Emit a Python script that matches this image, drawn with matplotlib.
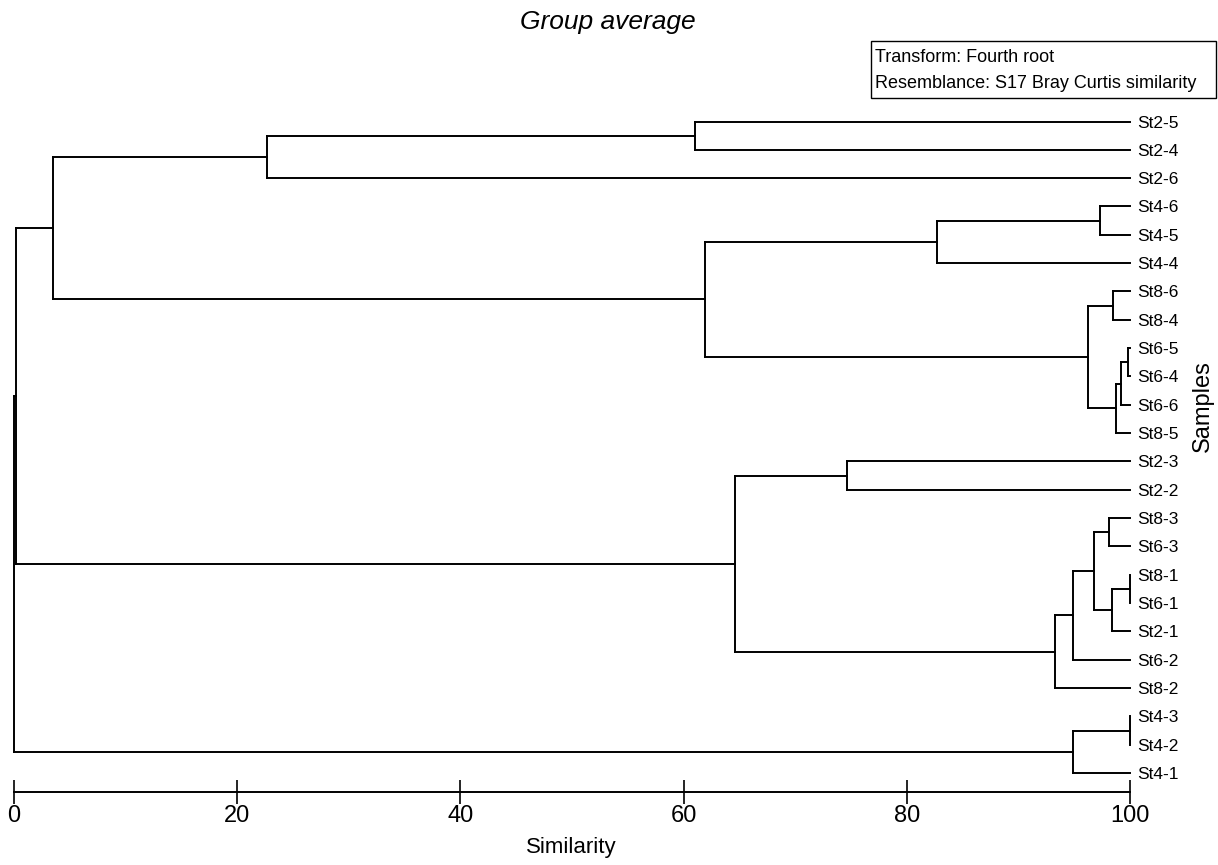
import matplotlib.pyplot as plt
from matplotlib.patches import Rectangle

plt.rcParams['font.family'] = ['Liberation Sans', 'DejaVu Sans']

# samples (leaves), top to bottom as drawn
samples = ['St2-5', 'St2-4', 'St2-6', 'St4-6', 'St4-5', 'St4-4',
           'St8-6', 'St8-4', 'St6-5', 'St6-4', 'St6-6', 'St8-5',
           'St2-3', 'St2-2', 'St8-3', 'St6-3', 'St8-1', 'St6-1',
           'St2-1', 'St6-2', 'St8-2', 'St4-3', 'St4-2', 'St4-1']

# merge steps: node ids 0-23 are samples, new nodes numbered from 24
merge_left = [0, 24, 3, 26, 6, 8, 29, 30, 28, 27, 25, 12,
              14, 16, 37, 36, 39, 40, 35, 21, 43, 34, 45]
merge_right = [1, 2, 4, 5, 7, 9, 10, 11, 31, 32, 33, 13,
               15, 17, 18, 38, 19, 20, 41, 22, 23, 42, 44]
merge_sim = [61.0, 22.7, 97.3, 82.7, 98.5, 99.8, 99.2, 98.7, 96.2, 61.9, 3.5, 74.6,
             98.1, 100.0, 98.4, 96.8, 94.9, 93.3, 64.6, 100.0, 94.9, 0.15, 0.0]

x_ticks = [0, 20, 40, 60, 80, 100]

fig = plt.figure(figsize=(12.18, 8.65), dpi=100)
ax = fig.add_axes([0.01149, 0.0847, 0.9163, 0.7912])

# node positions: x = similarity, y = leaf order
pos_x = [100.0] * len(samples)
pos_y = list(range(len(samples)))
lw = 1.4
for a, b, s in zip(merge_left, merge_right, merge_sim):
    # horizontal arms from each child to the merge level
    ax.plot([pos_x[a], s], [pos_y[a], pos_y[a]], color='black', lw=lw, clip_on=False)
    ax.plot([pos_x[b], s], [pos_y[b], pos_y[b]], color='black', lw=lw, clip_on=False)
    # vertical joint
    ax.plot([s, s], [pos_y[a], pos_y[b]], color='black', lw=lw, clip_on=False)
    pos_x.append(s)
    pos_y.append((pos_y[a] + pos_y[b]) / 2)

ax.set_xlim(0, 100)
ax.set_ylim(len(samples) - 1 + 0.66, -0.5)

# only the bottom axis line
for side in ['top', 'left', 'right']:
    ax.spines[side].set_visible(False)
ax.spines['bottom'].set_bounds(0, 100)
ax.spines['bottom'].set_linewidth(1.4)
ax.set_xticks(x_ticks)
ax.set_xticklabels([str(t) for t in x_ticks])
ax.tick_params(axis='x', direction='inout', length=17, width=1.2, labelsize=17, pad=1)

# sample names on the right
ax.yaxis.tick_right()
ax.set_yticks(range(len(samples)))
ax.set_yticklabels(samples)
ax.tick_params(axis='y', length=0, labelsize=12.5, pad=5)

fig.text(0.4688, 0.0197, 'Similarity', fontsize=16, ha='center', va='center')
fig.text(0.988, 0.53, 'Samples', fontsize=17, rotation=90, ha='center', va='center')
fig.text(0.499, 0.9746, 'Group average', fontsize=19, style='italic', ha='center', va='center')

# info box at top right
fig.patches.append(Rectangle((871 / 1218, 1 - 98 / 865), 345 / 1218, 57 / 865,
                             transform=fig.transFigure, fill=False, edgecolor='black', lw=1.0))
fig.text(875 / 1218, 1 - 57 / 865, 'Transform: Fourth root', fontsize=13, ha='left', va='center')
fig.text(875 / 1218, 1 - 83 / 865, 'Resemblance: S17 Bray Curtis similarity', fontsize=13,
         ha='left', va='center')

fig.savefig('out.png', dpi=100)
